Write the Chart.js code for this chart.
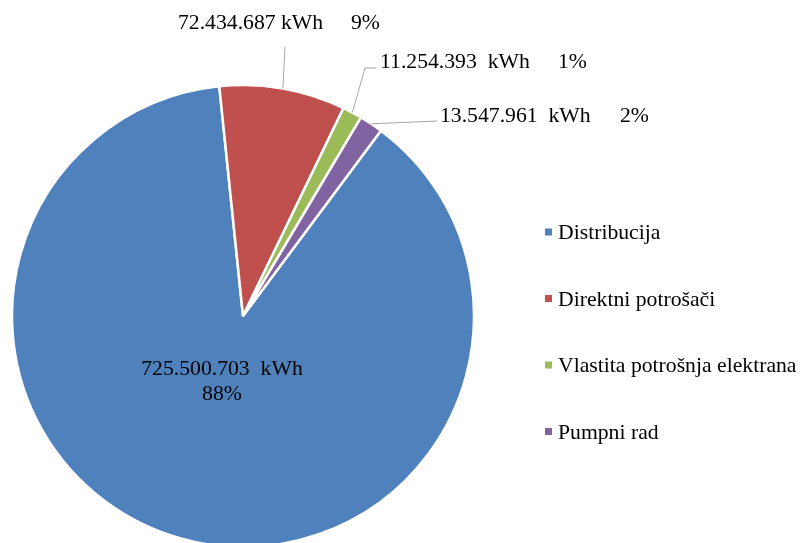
<!DOCTYPE html>
<html lang="hr">
<head>
  <meta charset="UTF-8" />
  <title>Potrošnja električne energije</title>
  <script src="https://cdn.jsdelivr.net/npm/chart.js"></script>
  <style>
    html, body {
      margin: 0;
      padding: 0;
      background: #fff;
      overflow: hidden;
    }
    #wrap {
      position: relative;
      width: 803px;
      height: 543px;
    }
  </style>
</head>
<body>
  <div id="wrap"><canvas id="pieChart"></canvas></div>

<script>
  const categories = ['Distribucija', 'Direktni potrošači', 'Vlastita potrošnja elektrana', 'Pumpni rad'];
  const energyKwh = [725500703, 72434687, 11254393, 13547961];
  const valueLabels = ['725.500.703  kWh', '72.434.687 kWh', '11.254.393  kWh', '13.547.961  kWh'];
  const percentLabels = ['88%', '9%', '1%', '2%'];
  const sliceColors = ['#4F81BD', '#C0504D', '#9BBB59', '#8064A2'];

  // where the data labels sit (moved by hand in the original, like Excel does)
  const labelLayout = [
    { inside: true, x: 222, y: 375 },
    { x: 178, y: 29, pctX: 351, path: [[285, 47]] },
    { x: 380, y: 68, pctX: 558, path: [[365, 68], [376, 68]] },
    { x: 440, y: 122, pctX: 620, path: [[437, 121]] }
  ];

  const FONT = '21.7px "Liberation Serif", "Times New Roman", serif';

  const dataLabels = {
    id: 'dataLabels',
    afterDatasetsDraw(chart) {
      const ctx = chart.ctx;
      const arcs = chart.getDatasetMeta(0).data;
      ctx.save();
      ctx.font = FONT;
      ctx.fillStyle = '#000';
      ctx.textBaseline = 'alphabetic';
      arcs.forEach((arc, i) => {
        const spot = labelLayout[i];
        if (spot.inside) {
          ctx.textAlign = 'center';
          ctx.fillText(valueLabels[i], spot.x, spot.y);
          ctx.fillText(percentLabels[i], spot.x, spot.y + 25);
          return;
        }
        // leader line starts on the rim at the middle of the slice
        const mid = (arc.startAngle + arc.endAngle) / 2;
        const sx = arc.x + Math.cos(mid) * arc.outerRadius;
        const sy = arc.y + Math.sin(mid) * arc.outerRadius;
        ctx.strokeStyle = '#A6A6A6';
        ctx.lineWidth = 1;
        ctx.beginPath();
        ctx.moveTo(sx, sy);
        spot.path.forEach(p => ctx.lineTo(p[0], p[1]));
        ctx.stroke();

        ctx.textAlign = 'left';
        ctx.fillText(valueLabels[i], spot.x, spot.y);
        ctx.fillText(percentLabels[i], spot.pctX, spot.y);
      });
      ctx.restore();
    }
  };

  const sideLegend = {
    id: 'sideLegend',
    afterDraw(chart) {
      const ctx = chart.ctx;
      const colors = chart.data.datasets[0].backgroundColor;
      ctx.save();
      ctx.font = FONT;
      ctx.textAlign = 'left';
      ctx.textBaseline = 'alphabetic';
      chart.data.labels.forEach((label, i) => {
        const cy = 232 + i * 66.5;
        ctx.fillStyle = colors[i];
        ctx.fillRect(545, cy - 3.5, 7, 7);
        ctx.fillStyle = '#000';
        ctx.fillText(label, 558, cy + 7);
      });
      ctx.restore();
    }
  };

  new Chart(document.getElementById('pieChart'), {
    type: 'pie',
    data: {
      labels: categories,
      datasets: [{
        data: energyKwh,
        backgroundColor: sliceColors,
        borderColor: '#fff',
        borderWidth: 2.5
      }]
    },
    options: {
      responsive: true,
      maintainAspectRatio: false,
      animation: false,
      rotation: 36.65,
      radius: 231,
      layout: { padding: { left: 12, right: 329, top: 89, bottom: -8 } },
      plugins: {
        legend: { display: false },
        tooltip: { enabled: false }
      }
    },
    plugins: [dataLabels, sideLegend]
  });
</script>
</body>
</html>
